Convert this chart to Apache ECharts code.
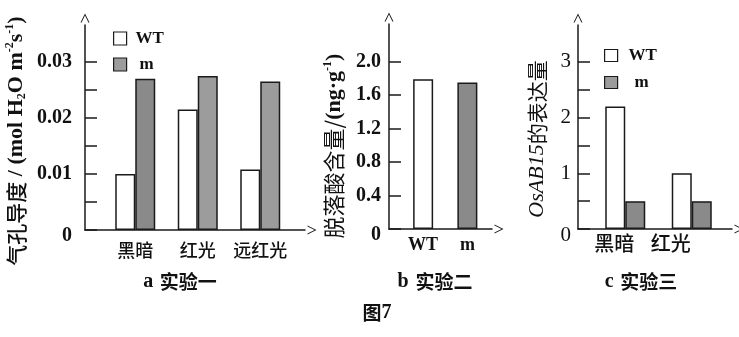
<!DOCTYPE html>
<html>
<head>
<meta charset="utf-8">
<script src="https://cdn.jsdelivr.net/npm/echarts@6/dist/echarts.min.js"></script>
<style>
  html, body { margin: 0; padding: 0; background: #fff; }
  #chart { width: 739px; height: 337px; }
</style>
</head>
<body>
<div id="chart"></div>
<script>
// 实验一：气孔导度
const catA = ['黑暗', '红光', '远红光'];
const wtA = [0.0100, 0.0215, 0.0108];
const mA = [0.0270, 0.0275, 0.0265];
const tickA = [0, 0.005, 0.01, 0.015, 0.02, 0.025, 0.03];
const labelA = [0, 0.01, 0.02, 0.03];

// 实验二：脱落酸含量
const catB = ['WT', 'm'];
const valB = [1.79, 1.75];
const tickB = [0, 0.4, 0.8, 1.2, 1.6, 2.0];

// 实验三：OsAB15 表达量
const catC = ['黑暗', '红光'];
const wtC = [2.2, 1.0];
const mC = [0.5, 0.5];
const tickC = [0, 0.5, 1, 1.5, 2, 2.5, 3];
const labelC = [0, 1, 2, 3];

const INK = '#1a1a1a';
const GRAY = '#9c9c9c';
const GRAY_DARK = '#8a8a8a';
const SERIF = '"Liberation Serif", "DejaVu Serif", serif';
const CJK = '"Noto Sans CJK SC", sans-serif';
const ARROW = 'path://M0,10 L5,0 L10,10 L8.8,10 L5,2.2 L1.2,10 Z';

const chart = echarts.init(document.getElementById('chart'), null, { renderer: 'canvas' });

function frameX(gi) {
  return {
    type: 'value', gridIndex: gi, min: 0, max: 1,
    axisLine: { show: true, lineStyle: { color: INK, width: 1.5 }, symbol: ['none', ARROW], symbolSize: [10, 9], symbolOffset: [0, 7] },
    axisTick: { show: false }, axisLabel: { show: false }, splitLine: { show: false }
  };
}
function frameY(gi, max, ticks, labels, fmt, lab) {
  return {
    type: 'value', gridIndex: gi, min: 0, max: max,
    axisLine: { show: true, lineStyle: { color: INK, width: 1.5 }, symbol: ['none', ARROW], symbolSize: [10, 9], symbolOffset: [0, 7] },
    axisTick: { show: true, inside: true, length: 12, customValues: ticks, lineStyle: { color: INK, width: 1.5 } },
    axisLabel: Object.assign({
      show: true, customValues: labels, color: '#111', fontFamily: SERIF,
      formatter: v => v === 0 ? '{z|0}' : fmt(v),
      rich: { z: { padding: [12, 0, 0, 0] } }
    }, lab),
    splitLine: { show: false }
  };
}
function barX(gi, cats, lab) {
  return {
    type: 'category', gridIndex: gi, data: cats,
    axisLine: { show: false }, axisTick: { show: false }, splitLine: { show: false },
    axisLabel: Object.assign({ color: '#111', interval: 0 }, lab)
  };
}
function barY(gi, max) {
  return { type: 'value', gridIndex: gi, min: 0, max: max, show: false, splitLine: { show: false } };
}

const edge = { borderColor: INK, borderWidth: 1.5 };

const option = {
  animation: false,
  backgroundColor: '#fff',
  grid: [
    { left: 85, top: 25, width: 220, height: 205 },
    { left: 104, top: 25, width: 187.5, height: 205 },
    { left: 389, top: 24, width: 103, height: 205 },
    { left: 401, top: 24, width: 88.5, height: 205 },
    { left: 578, top: 25, width: 154, height: 204 },
    { left: 592, top: 25, width: 133, height: 204 }
  ],
  xAxis: [
    frameX(0),
    barX(1, catA, { fontFamily: CJK, fontSize: 18, fontWeight: 500, margin: 11 }),
    frameX(2),
    barX(3, catB, { fontFamily: SERIF, fontSize: 18, fontWeight: 'bold', margin: 7 }),
    frameX(4),
    barX(5, catC, {
      fontFamily: CJK, fontSize: 20, fontWeight: 500, margin: 4,
      formatter: (v, i) => i === 0 ? '{a|' + v + '}' : '{b|' + v + '}',
      rich: { a: { padding: [0, 22, 0, 0] }, b: { padding: [0, 42, 0, 0] } }
    })
  ],
  yAxis: [
    frameY(0, 0.0366, tickA, labelA, v => v.toFixed(2), { fontSize: 20, fontWeight: 'bold', margin: 13 }),
    barY(1, 0.0366),
    frameY(2, 2.45, tickB, tickB, v => v.toFixed(1), { fontSize: 20, fontWeight: 'bold', margin: 8 }),
    barY(3, 2.45),
    frameY(4, 3.66, tickC, labelC, v => String(v), { fontSize: 21, margin: 7 }),
    barY(5, 3.66)
  ],
  legend: [
    {
      left: 108, top: 25, orient: 'vertical', itemWidth: 13, itemHeight: 13, itemGap: 9,
      selectedMode: false, data: ['WT', 'm'], icon: 'rect',
      itemStyle: { borderColor: INK, borderWidth: 1.2 },
      formatter: n => n === 'm' ? '{p|m}' : n,
      textStyle: { fontFamily: SERIF, fontSize: 17, fontWeight: 'bold', color: '#111', padding: [0, 0, 0, 4],
        rich: { p: { fontFamily: SERIF, fontSize: 17, fontWeight: 'bold', padding: [0, 0, 0, 4] } } }
    },
    {
      left: 599, top: 42, orient: 'vertical', itemWidth: 13, itemHeight: 12, itemGap: 10,
      selectedMode: false, data: ['WT', 'm'], icon: 'rect',
      itemStyle: { borderColor: INK, borderWidth: 1.2 },
      formatter: n => n === 'm' ? '{p|m}' : n,
      textStyle: { fontFamily: SERIF, fontSize: 17, fontWeight: 'bold', color: '#111', padding: [0, 0, 0, 6],
        rich: { p: { fontFamily: SERIF, fontSize: 17, fontWeight: 'bold', padding: [0, 0, 0, 6] } } }
    }
  ],
  series: [
    { name: 'WT', type: 'bar', xAxisIndex: 1, yAxisIndex: 1, barWidth: 20, barGap: '0%',
      itemStyle: Object.assign({ color: '#fff' }, edge), data: wtA },
    { name: 'm', type: 'bar', xAxisIndex: 1, yAxisIndex: 1, barWidth: 20, barGap: '0%',
      itemStyle: Object.assign({ color: GRAY }, edge),
      data: mA.map((v, i) => i === 0 ? { value: v, itemStyle: { color: GRAY_DARK } } : v) },
    { name: '脱落酸含量', type: 'bar', xAxisIndex: 3, yAxisIndex: 3, barWidth: 20,
      itemStyle: Object.assign({}, edge),
      data: valB.map((v, i) => ({ value: v, itemStyle: { color: i === 0 ? '#fff' : GRAY_DARK } })) },
    { name: 'WT', type: 'bar', xAxisIndex: 5, yAxisIndex: 5, barWidth: 20, barGap: '0%',
      itemStyle: Object.assign({ color: '#fff' }, edge), data: wtC },
    { name: 'm', type: 'bar', xAxisIndex: 5, yAxisIndex: 5, barWidth: 20, barGap: '0%',
      itemStyle: Object.assign({ color: GRAY_DARK }, edge), data: mC }
  ],
  graphic: [
    { type: 'text', x: 16, y: 141, rotation: Math.PI / 2,
      style: {
        text: '{c|气孔导度}{l| / (mol H}{sub|2}{l|O m}{sup|-2}{l|s}{sup|-1}{l|)}',
        textAlign: 'center', textVerticalAlign: 'middle', fill: '#111',
        rich: {
          c: { fontFamily: CJK, fontSize: 21, fontWeight: 500, lineHeight: 24 },
          l: { fontFamily: SERIF, fontSize: 22, fontWeight: 'bold', lineHeight: 24 },
          sub: { fontFamily: SERIF, fontSize: 12, fontWeight: 'bold', verticalAlign: 'bottom', lineHeight: 24 },
          sup: { fontFamily: SERIF, fontSize: 12, fontWeight: 'bold', verticalAlign: 'top', lineHeight: 24 }
        }
      } },
    { type: 'text', x: 334, y: 146, rotation: Math.PI / 2,
      style: {
        text: '{c|脱落酸含量/}{l|(ng·g}{sup|-1}{l|)}',
        textAlign: 'center', textVerticalAlign: 'middle', fill: '#111',
        rich: {
          c: { fontFamily: CJK, fontSize: 22, lineHeight: 25 },
          l: { fontFamily: SERIF, fontSize: 22, fontWeight: 'bold', lineHeight: 25 },
          sup: { fontFamily: SERIF, fontSize: 12, fontWeight: 'bold', verticalAlign: 'top', lineHeight: 25 }
        }
      } },
    { type: 'text', x: 537, y: 139, rotation: Math.PI / 2,
      style: {
        text: '{i|OsAB15}{c|的表达量}',
        textAlign: 'center', textVerticalAlign: 'middle', fill: '#111',
        rich: {
          i: { fontFamily: SERIF, fontSize: 22, fontStyle: 'italic', lineHeight: 25 },
          c: { fontFamily: CJK, fontSize: 21, lineHeight: 25 }
        }
      } },
    { type: 'text', x: 180, y: 282,
      style: { text: '{l|a}  {c|实验一}', textAlign: 'center', textVerticalAlign: 'middle', fill: '#111',
        rich: { l: { fontFamily: SERIF, fontSize: 20, fontWeight: 'bold' }, c: { fontFamily: CJK, fontSize: 19, fontWeight: 'bold' } } } },
    { type: 'text', x: 435, y: 282,
      style: { text: '{l|b}  {c|实验二}', textAlign: 'center', textVerticalAlign: 'middle', fill: '#111',
        rich: { l: { fontFamily: SERIF, fontSize: 20, fontWeight: 'bold' }, c: { fontFamily: CJK, fontSize: 19, fontWeight: 'bold' } } } },
    { type: 'text', x: 641, y: 282,
      style: { text: '{l|c}  {c|实验三}', textAlign: 'center', textVerticalAlign: 'middle', fill: '#111',
        rich: { l: { fontFamily: SERIF, fontSize: 20, fontWeight: 'bold' }, c: { fontFamily: CJK, fontSize: 19, fontWeight: 'bold' } } } },
    { type: 'text', x: 377, y: 313,
      style: { text: '{c|图}{l|7}', textAlign: 'center', textVerticalAlign: 'middle', fill: '#111',
        rich: { l: { fontFamily: SERIF, fontSize: 20, fontWeight: 'bold' }, c: { fontFamily: CJK, fontSize: 19, fontWeight: 'bold' } } } }
  ]
};

chart.setOption(option);
</script>
</body>
</html>
